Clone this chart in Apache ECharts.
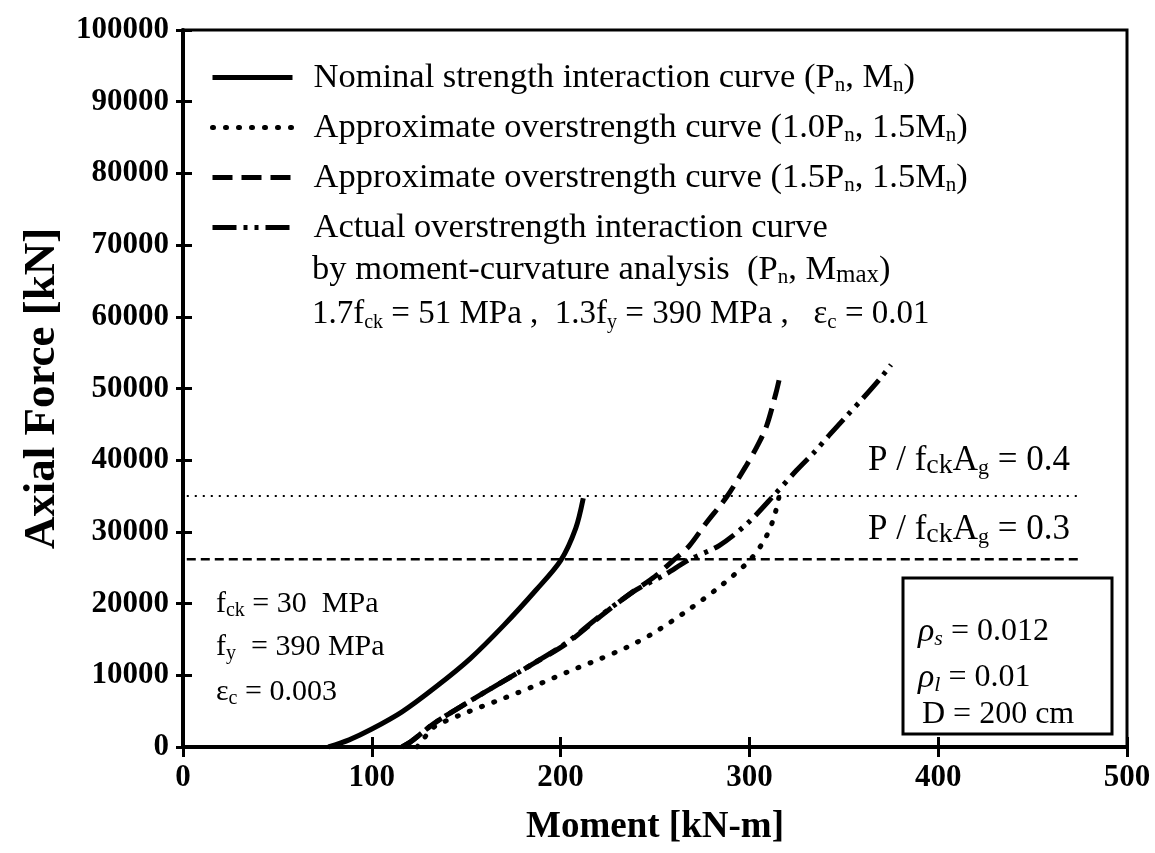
<!DOCTYPE html>
<html>
<head>
<meta charset="utf-8">
<script src="https://cdn.jsdelivr.net/npm/echarts@6/dist/echarts.min.js"></script>
<style>
  html, body { margin: 0; padding: 0; background: #fff; }
  #chart { width: 1155px; height: 853px; }
</style>
</head>
<body>
<div id="chart"></div>
<script>
// ---- Data ----
const xTicks = [0, 100, 200, 300, 400, 500];
const yTicks = [0, 10000, 20000, 30000, 40000, 50000, 60000, 70000, 80000, 90000, 100000];

// Nominal strength interaction curve (Pn, Mn)
const nominalM = [77, 88, 100, 116, 134, 152, 170, 187, 200, 208, 212];
const nominalP = [0, 1000, 2500, 4900, 8400, 12300, 17000, 21900, 26000, 30500, 34700];

// Approximate overstrength curve (1.0Pn, 1.5Mn)
const approx10M = [124, 127, 133, 151, 169, 187, 204, 221, 235, 248, 267, 284, 300, 308, 313, 316];
const approx10P = [0, 1000, 2800, 4900, 6700, 8600, 10500, 12300, 13900, 15700, 19000, 22300, 26000, 28900, 32000, 35300];

// Approximate overstrength curve (1.5Pn, 1.5Mn)
const approx15M = [116, 121, 133, 150, 168, 186, 203, 221, 238, 250, 260, 268, 277, 288, 298, 304, 309, 314, 316];
const approx15P = [0, 800, 3300, 6100, 8900, 11700, 14400, 18200, 21600, 23800, 26100, 28000, 31200, 34900, 39100, 41900, 44700, 49300, 51500];

// Actual overstrength interaction curve (Pn, Mmax)
const actualM = [116, 121, 133, 150, 168, 186, 203, 221, 240, 255, 268, 284, 299, 314, 325, 335, 343, 352, 360, 369, 375];
const actualP = [0, 800, 3300, 6100, 8900, 11700, 14500, 18300, 21900, 24000, 26100, 28100, 31200, 35400, 38600, 41300, 43700, 46300, 48600, 51300, 53300];

// Reference axial load levels
const ref04M = [2, 474];
const ref04P = [35000, 35000];
const ref03M = [2, 474];
const ref03P = [26200, 26200];

const seriesNames = ['nominal', 'approx10', 'approx15', 'actual'];

// ---- Chart ----
const FONT = "'Liberation Serif','Times New Roman',serif";
const zip = (a, b) => a.map((v, i) => [v, b[i]]);

const T = { fontFamily: FONT, fontSize: 34.5, color: '#000', lineHeight: 36 };
const S = { fontFamily: FONT, fontSize: 21, color: '#000', lineHeight: 21, verticalAlign: 'bottom' };
const legendRich = {
  g: { width: 16 },
  t: T,
  s: S
};
const legendText = {
  nominal: '{g|}{t|Nominal strength interaction curve (P}{s|n}{t|, M}{s|n}{t|)}',
  approx10: '{g|}{t|Approximate overstrength curve (1.0P}{s|n}{t|, 1.5M}{s|n}{t|)}',
  approx15: '{g|}{t|Approximate overstrength curve (1.5P}{s|n}{t|, 1.5M}{s|n}{t|)}',
  actual: '{g|}{t|Actual overstrength interaction curve}'
};

const chart = echarts.init(document.getElementById('chart'), null, { renderer: 'canvas' });

const axisLabelStyle = { fontFamily: FONT, fontSize: 31, fontWeight: 'bold', color: '#000' };
const plainNum = v => String(v);

const annT = { fontFamily: FONT, fontSize: 30, color: '#000', lineHeight: 34 };
const annS = { fontFamily: FONT, fontSize: 20, color: '#000', lineHeight: 20, verticalAlign: 'bottom' };
const boxT = { fontFamily: FONT, fontSize: 32, color: '#000', lineHeight: 36 };
const boxI = { fontFamily: FONT, fontSize: 34, fontStyle: 'italic', color: '#000', lineHeight: 36 };
const boxIS = { fontFamily: FONT, fontSize: 22, fontStyle: 'italic', color: '#000', lineHeight: 22, verticalAlign: 'bottom' };
const refT = { fontFamily: FONT, fontSize: 35, color: '#000', lineHeight: 38 };
const refC = { fontFamily: FONT, fontSize: 28, color: '#000', lineHeight: 30, verticalAlign: 'bottom' };
const refS = { fontFamily: FONT, fontSize: 22, color: '#000', lineHeight: 22, verticalAlign: 'bottom' };

const option = {
  backgroundColor: '#fff',
  animation: false,
  grid: {
    left: 183, right: 28, top: 30, bottom: 106,
    show: true, borderColor: '#000', borderWidth: 3, backgroundColor: 'transparent'
  },
  legend: {
    orient: 'vertical',
    left: 210, top: 60, padding: 0,
    itemWidth: 80, itemHeight: 30, itemGap: 14.5,
    selectedMode: false,
    data: seriesNames,
    formatter: name => legendText[name],
    itemStyle: { opacity: 0 },
    lineStyle: { width: 5 },
    textStyle: { rich: legendRich, fontFamily: FONT, fontSize: 34.5, color: '#000' }
  },
  xAxis: [{
    type: 'value', min: 0, max: 500, interval: 100,
    name: 'Moment [kN-m]', nameLocation: 'middle', nameGap: 62,
    nameTextStyle: { fontFamily: FONT, fontSize: 37, fontWeight: 'bold', color: '#000' },
    axisLine: { show: true, lineStyle: { color: '#000', width: 4 } },
    axisTick: { show: true, inside: false, length: 10, lineStyle: { color: '#000', width: 3 } },
    axisLabel: Object.assign({ margin: 15, formatter: plainNum }, axisLabelStyle),
    splitLine: { show: false }
  }, {
    type: 'value', min: 0, max: 500, interval: 100, position: 'bottom',
    axisLine: { show: false },
    axisTick: { show: true, inside: true, length: 10, lineStyle: { color: '#000', width: 3 } },
    axisLabel: { show: false },
    splitLine: { show: false }
  }],
  yAxis: [{
    type: 'value', min: 0, max: 100000, interval: 10000,
    name: 'Axial Force [kN]', nameLocation: 'middle', nameGap: 102,
    nameTextStyle: { fontFamily: FONT, fontSize: 45, fontWeight: 'bold', color: '#000' },
    axisLine: { show: true, lineStyle: { color: '#000', width: 4 } },
    axisTick: { show: true, inside: false, length: 7, lineStyle: { color: '#000', width: 3 } },
    axisLabel: Object.assign({ margin: 14, formatter: plainNum }, axisLabelStyle),
    splitLine: { show: false }
  }, {
    type: 'value', min: 0, max: 100000, interval: 10000, position: 'left',
    axisLine: { show: false },
    axisTick: { show: true, inside: true, length: 9, lineStyle: { color: '#000', width: 3 } },
    axisLabel: { show: false },
    splitLine: { show: false }
  }],
  series: [
    {
      name: 'ref04', type: 'line', data: zip(ref04M, ref04P), symbol: 'none', silent: true,
      lineStyle: { color: '#000', width: 2, type: [2, 6] }
    },
    {
      name: 'ref03', type: 'line', data: zip(ref03M, ref03P), symbol: 'none', silent: true,
      lineStyle: { color: '#000', width: 2.5, type: [9, 5] }
    },
    {
      name: 'nominal', type: 'line', data: zip(nominalM, nominalP), symbol: 'none', smooth: 0.3,
      itemStyle: { color: '#000' },
      lineStyle: { color: '#000', width: 5 }
    },
    {
      name: 'approx10', type: 'line', data: zip(approx10M, approx10P), symbol: 'none', smooth: 0.3,
      itemStyle: { color: '#000' },
      lineStyle: { color: '#000', width: 5, type: [1, 12], cap: 'round' }
    },
    {
      name: 'approx15', type: 'line', data: zip(approx15M, approx15P), symbol: 'none', smooth: 0.3,
      itemStyle: { color: '#000' },
      lineStyle: { color: '#000', width: 5, type: [20, 9] }
    },
    {
      name: 'actual', type: 'line', data: zip(actualM, actualP), symbol: 'none', smooth: 0.3,
      itemStyle: { color: '#000' },
      lineStyle: { color: '#000', width: 5, type: [24, 7, 4, 7, 4, 7] }
    }
  ],
  graphic: [
    // continuation of legend entry 4
    { type: 'text', left: 312, top: 252, style: {
        text: '{t|by moment-curvature analysis  (P}{s|n}{t|, M}{m|max}{t|)}',
        rich: { t: T, s: S, m: { fontFamily: FONT, fontSize: 25, color: '#000', lineHeight: 27, verticalAlign: 'bottom' } } } },
    { type: 'text', left: 312, top: 298, style: {
        text: '{t|1.7f}{m|ck}{t| = 51 MPa ,  1.3f}{m|y}{t| = 390 MPa ,   ε}{s|c}{t| = 0.01}',
        rich: { t: Object.assign({}, T, { fontSize: 33 }), s: S, m: { fontFamily: FONT, fontSize: 20, color: '#000', lineHeight: 24, verticalAlign: 'bottom' } } } },
    // reference line labels
    { type: 'text', left: 868, top: 443, style: {
        text: '{t|P / f}{c|ck}{t|A}{s|g}{t| = 0.4}', rich: { t: refT, c: refC, s: refS } } },
    { type: 'text', left: 868, top: 512, style: {
        text: '{t|P / f}{c|ck}{t|A}{s|g}{t| = 0.3}', rich: { t: refT, c: refC, s: refS } } },
    // material annotation
    { type: 'text', left: 216, top: 589, style: {
        text: '{t|f}{s|ck}{t| = 30  MPa}', rich: { t: annT, s: annS } } },
    { type: 'text', left: 216, top: 632, style: {
        text: '{t|f}{s|y}{t|  = 390 MPa}', rich: { t: annT, s: annS } } },
    { type: 'text', left: 216, top: 677, style: {
        text: '{t|ε}{s|c}{t| = 0.003}', rich: { t: annT, s: annS } } },
    // section box
    { type: 'rect', shape: { x: 903, y: 578, width: 209, height: 156 },
      style: { fill: '#fff', stroke: '#000', lineWidth: 3 }, z: 10 },
    { type: 'text', left: 918, top: 615, z: 11, style: {
        text: '{i|ρ}{is|s}{t| = 0.012}', rich: { t: boxT, i: boxI, is: boxIS } } },
    { type: 'text', left: 918, top: 661, z: 11, style: {
        text: '{i|ρ}{is|l}{t| = 0.01}', rich: { t: boxT, i: boxI, is: boxIS } } },
    { type: 'text', left: 922, top: 699, z: 11, style: {
        text: 'D = 200 cm', fontFamily: FONT, fontSize: 32, fill: '#000' } }
  ]
};

chart.setOption(option);
</script>
</body>
</html>
